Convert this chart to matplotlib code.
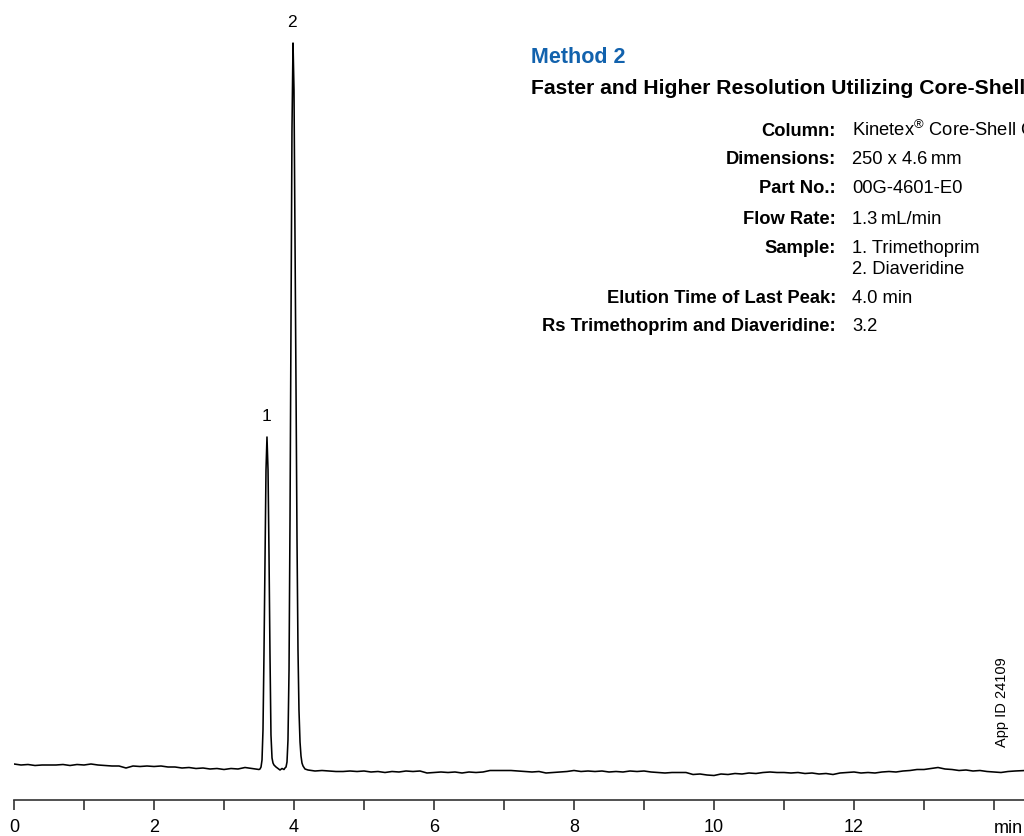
import matplotlib
matplotlib.use("Agg")
import matplotlib.pyplot as plt
import numpy as np

plt.rcParams['font.family'] = ['Liberation Sans', 'DejaVu Sans']
plt.rcParams['mathtext.fontset'] = 'custom'
plt.rcParams['mathtext.rm'] = 'Liberation Sans'

# chromatogram trace (time in min, signal in arbitrary units)
time_before = [0.0, 0.1, 0.2, 0.3, 0.4, 0.5, 0.6, 0.7, 0.8, 0.9, 1.0, 1.1, 1.2, 1.3,
               1.4, 1.5, 1.6, 1.7, 1.8, 1.9, 2.0, 2.1, 2.2, 2.3, 2.4, 2.5, 2.6, 2.7,
               2.8, 2.9, 3.0, 3.1, 3.2, 3.3, 3.4, 3.5]
signal_before = [6.0, 5.0, 5.5, 4.5, 5.0, 5.0, 5.0, 5.5, 4.5, 5.5, 5.0, 6.0, 5.0, 4.5,
                 4.0, 4.0, 2.0, 4.0, 3.5, 4.0, 3.5, 4.0, 3.0, 3.0, 2.0, 2.5, 1.5, 2.0,
                 1.0, 1.5, 0.5, 1.5, 1.0, 2.5, 1.5, 0.5]

time_peaks = [3.514, 3.529, 3.543, 3.557, 3.571, 3.586, 3.600, 3.614, 3.629, 3.643,
              3.657, 3.671, 3.686, 3.700, 3.714, 3.743, 3.771, 3.800, 3.829, 3.857,
              3.871, 3.886, 3.900, 3.914, 3.929, 3.943, 3.957, 3.971, 3.986, 4.000,
              4.014, 4.029, 4.043, 4.057, 4.071, 4.086, 4.100, 4.114, 4.129, 4.157,
              4.200]
signal_peaks = [1, 3, 10, 40, 115, 215, 300, 333, 300, 215,
                115, 35, 12, 7, 5, 3, 1.5, 0, 1.5, 0.5,
                2, 3, 8, 30, 100, 250, 450, 640, 727, 680,
                540, 380, 230, 120, 60, 28, 14, 7, 4, 1,
                0]

time_after = [4.3, 4.4, 4.5, 4.6, 4.7, 4.8, 4.9, 5.0, 5.1, 5.2, 5.3, 5.4, 5.5, 5.6,
              5.7, 5.8, 5.9, 6.0, 6.1, 6.2, 6.3, 6.4, 6.5, 6.6, 6.7, 6.8, 6.9, 7.0,
              7.1, 7.2, 7.3, 7.4, 7.5, 7.6, 7.7, 7.8, 7.9, 8.0, 8.1, 8.2, 8.3, 8.4,
              8.5, 8.6, 8.7, 8.8, 8.9, 9.0, 9.1, 9.2, 9.3, 9.4, 9.5, 9.6, 9.7, 9.8,
              9.9, 10.0, 10.1, 10.2, 10.3, 10.4, 10.5, 10.6, 10.7, 10.8, 10.9, 11.0,
              11.1, 11.2, 11.3, 11.4, 11.5, 11.6, 11.7, 11.8, 11.9, 12.0, 12.1, 12.2,
              12.3, 12.4, 12.5, 12.6, 12.7, 12.8, 12.9, 13.0, 13.1, 13.2, 13.3, 13.4,
              13.5, 13.6, 13.7, 13.8, 13.9, 14.0, 14.1, 14.2, 14.3, 14.45]
signal_after = [-1.0, -0.5, -1.0, -1.5, -1.5, -1.0, -1.5, -1.0, -2.0, -1.5, -2.5, -1.5,
                -2.0, -1.0, -1.5, -1.0, -3.0, -2.5, -2.0, -2.5, -2.0, -3.0, -2.0, -2.5,
                -2.0, -0.5, -0.5, -0.5, -0.5, -1.0, -1.5, -2.0, -1.5, -3.0, -2.5, -2.0,
                -1.5, -0.5, -1.5, -1.0, -1.5, -1.0, -2.0, -1.5, -2.0, -1.0, -1.5, -1.0,
                -2.0, -2.5, -3.0, -2.5, -2.5, -2.5, -4.5, -4.0, -5.0, -5.5, -4.0, -4.5,
                -3.5, -4.0, -3.0, -3.5, -2.5, -2.0, -2.5, -2.5, -3.0, -2.5, -3.5, -3.0,
                -4.0, -3.5, -4.5, -3.0, -2.5, -2.0, -3.0, -2.5, -3.0, -2.0, -1.5, -2.0,
                -1.0, -0.5, 0.5, 0.5, 1.5, 2.5, 1.0, 0.5, -0.5, 0.0, -1.0, -0.5,
                -1.5, -2.0, -2.5, -1.5, -1.0, -0.5]

peak_labels = ["1", "2"]
peak_times = [3.614, 3.986]
peak_heights = [333, 727]

xtick_values = list(range(0, 15))
xtick_labels = ["0", "", "2", "", "4", "", "6", "", "8", "", "10", "", "12", "", ""]

method_title = "Method 2"
subtitle = "Faster and Higher Resolution Utilizing Core-Shell Technology"
info_keys = ["Column:", "Dimensions:", "Part No.:", "Flow Rate:", "Sample:",
             "Elution Time of Last Peak:", "Rs Trimethoprim and Diaveridine:"]
info_values = ["Kinetex$^{®}$ Core-Shell C18", "250 x 4.6\u2009mm", "00G-4601-E0",
               "1.3\u2009mL/min", "1. Trimethoprim\n2. Diaveridine", "4.0 min", "3.2"]
# baselines of the rows, in pixels from the top
info_rows_y = [136, 164, 193, 224, 253, 303, 331]

W, H = 1024, 836
fig = plt.figure(figsize=(W / 100, H / 100), dpi=100)
ax = fig.add_axes([14 / W, 36 / H, 1010 / W, 800 / H])

t = np.concatenate([time_before, time_peaks, time_after])
s = np.concatenate([signal_before, signal_peaks, signal_after])
ax.plot(t, s, color='black', lw=1.15)

ax.set_xlim(0, 1010 / 70)
ax.set_ylim(-30, 770)
for side in ['left', 'right', 'top']:
    ax.spines[side].set_visible(False)
ax.spines['bottom'].set_color('#333333')
ax.spines['bottom'].set_linewidth(1.2)
ax.set_yticks([])
ax.set_xticks(xtick_values)
ax.set_xticklabels(xtick_labels, fontsize=13)
ax.tick_params(axis='x', direction='out', length=7.5, width=1.2, color='#333333', pad=6)
ax.text(14.0, -50, "min", fontsize=13, ha='left', va='top', clip_on=False)

for lab, pt, ph in zip(peak_labels, peak_times, peak_heights):
    ax.text(pt - 0.01, ph + 16, lab, fontsize=12.5, ha='center', va='baseline')

def fy(py):
    return 1 - py / H

fig.text(531 / W, fy(63), method_title, fontsize=15.5, fontweight='bold',
         color='#1262ad', ha='left', va='baseline')
fig.text(531 / W, fy(94), subtitle, fontsize=15.2, fontweight='bold',
         color='black', ha='left', va='baseline')
for key, val, py in zip(info_keys, info_values, info_rows_y):
    fig.text(836 / W, fy(py), key, fontsize=13.2, fontweight='bold',
             ha='right', va='baseline')
    for i, line in enumerate(val.split('\n')):
        fig.text(852 / W, fy(py + 21 * i), line, fontsize=13.2,
                 ha='left', va='baseline')

fig.text(1002 / W, fy(702), "App ID 24109", fontsize=10.5, rotation=90,
         ha='center', va='center')

fig.savefig("out.png", dpi=100)
